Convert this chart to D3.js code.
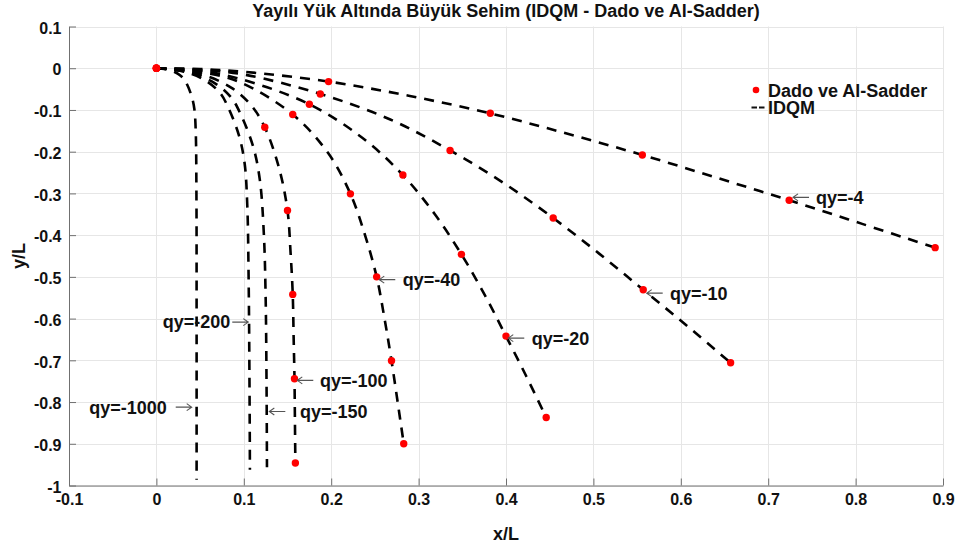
<!DOCTYPE html>
<html>
<head>
<meta charset="utf-8">
<script src="https://cdn.jsdelivr.net/npm/d3@7"></script>
<style>
  html, body { margin: 0; padding: 0; background: #fff; }
  svg { display: block; font-family: "Liberation Sans", Arial, sans-serif; }
</style>
</head>
<body>
<svg id="chart" width="959" height="547"></svg>
<script>
// ---- data: beam deflection shapes (x/L, y/L) for each distributed load qy ----
const loads = [-4, -10, -20, -40, -100, -150, -200, -1000];

// IDQM solution curves
const idqm_q4 = [[0,0],[0.05,-0.002],[0.1,-0.0085],[0.197,-0.032],[0.29,-0.0665],[0.382,-0.1083],[0.4695,-0.1565],[0.556,-0.2079],[0.6405,-0.262],[0.724,-0.3165],[0.8075,-0.373],[0.891,-0.430]];
const idqm_q10 = [[0,0],[0.0498,-0.0038],[0.0995,-0.0148],[0.1875,-0.0616],[0.2676,-0.1229],[0.336,-0.197],[0.398,-0.276],[0.454,-0.359],[0.5066,-0.4443],[0.557,-0.531],[0.6075,-0.618],[0.657,-0.706]];
const idqm_q20 = [[0,0],[0.0496,-0.006],[0.0966,-0.026],[0.175,-0.0863],[0.2355,-0.1666],[0.282,-0.256],[0.3186,-0.350],[0.349,-0.446],[0.3758,-0.5437],[0.400,-0.642],[0.4235,-0.7394],[0.446,-0.837]];
const idqm_q40 = [[0,0],[0.0492,-0.0087],[0.0945,-0.0326],[0.156,-0.111],[0.1965,-0.2034],[0.222,-0.301],[0.2387,-0.400],[0.252,-0.500],[0.261,-0.600],[0.269,-0.701],[0.276,-0.7995],[0.283,-0.900]];
const idqm_q100 = [[0,0],[0.0483,-0.0129],[0.0855,-0.0464],[0.109,-0.0905],[0.124,-0.1415],[0.1405,-0.2405],[0.150,-0.341],[0.1535,-0.4415],[0.156,-0.542],[0.157,-0.643],[0.158,-0.744],[0.1585,-0.845],[0.159,-0.946]];
const idqm_q150 = [[0,0],[0.038,-0.010],[0.0675,-0.0367],[0.086,-0.0715],[0.0963,-0.1097],[0.111,-0.19],[0.1185,-0.27],[0.123,-0.40],[0.125,-0.55],[0.126,-0.75],[0.1265,-0.956]];
const idqm_q200 = [[0,0],[0.0325,-0.0087],[0.0575,-0.0312],[0.0734,-0.0609],[0.082,-0.0934],[0.0946,-0.162],[0.101,-0.229],[0.104,-0.33],[0.1055,-0.5],[0.1065,-0.75],[0.107,-0.962]];
const idqm_q1000 = [[0,0],[0.014,-0.0037],[0.0248,-0.0135],[0.0316,-0.0262],[0.0354,-0.0403],[0.0407,-0.0697],[0.0435,-0.099],[0.045,-0.15],[0.0458,-0.3],[0.046,-0.6],[0.046,-0.986]];

// Dado ve Al-Sadder reference points
const dado_q4 = [[0,0],[0.197,-0.032],[0.382,-0.108],[0.556,-0.208],[0.724,-0.3165],[0.891,-0.430]];
const dado_q10 = [[0,0],[0.1875,-0.0616],[0.336,-0.197],[0.454,-0.359],[0.557,-0.531],[0.657,-0.706]];
const dado_q20 = [[0,0],[0.175,-0.0863],[0.282,-0.256],[0.349,-0.446],[0.400,-0.642],[0.446,-0.837]];
const dado_q40 = [[0,0],[0.156,-0.111],[0.222,-0.301],[0.252,-0.500],[0.269,-0.701],[0.283,-0.900]];
const dado_q100 = [[0,0],[0.124,-0.1415],[0.150,-0.341],[0.156,-0.542],[0.158,-0.744],[0.159,-0.946]];

// annotation anchors (arrow tip, data units) and arrow direction
const labelText = ["qy=-4", "qy=-10", "qy=-20", "qy=-40", "qy=-100", "qy=-150", "qy=-200", "qy=-1000"];
const labelX = [0.7284, 0.561, 0.4026, 0.255, 0.1612, 0.1292, 0.1051, 0.0404];
const labelY = [-0.3094, -0.539, -0.6468, -0.5067, -0.748, -0.8225, -0.6084, -0.8122];
const labelDir = ["left", "left", "left", "left", "left", "left", "right", "right"];

// axis ticks
const xTicks = [-0.1, 0, 0.1, 0.2, 0.3, 0.4, 0.5, 0.6, 0.7, 0.8, 0.9];
const xTickLabels = ["-0.1", "0", "0.1", "0.2", "0.3", "0.4", "0.5", "0.6", "0.7", "0.8", "0.9"];
const yTicks = [0.1, 0, -0.1, -0.2, -0.3, -0.4, -0.5, -0.6, -0.7, -0.8, -0.9, -1];
const yTickLabels = ["0.1", "0", "-0.1", "-0.2", "-0.3", "-0.4", "-0.5", "-0.6", "-0.7", "-0.8", "-0.9", "-1"];

const titleText = "Yayılı Yük Altında Büyük Sehim (IDQM - Dado ve Al-Sadder)";
const legendText = ["Dado ve Al-Sadder", "IDQM"];

// ---- layout ----
const plot = { left: 69, right: 943, top: 26.5, bottom: 485.5 };
const textGap = [23, 23.3, 23.4, 23.4, 22.7, 30.7, 18, 25];
const arrowLen = 16;

const svg = d3.select("#chart");
const x = d3.scaleLinear().domain([-0.1, 0.9]).range([plot.left, plot.right]);
const y = d3.scaleLinear().domain([-1, 0.1]).range([plot.bottom, plot.top]);

// grid
const grid = svg.append("g").attr("stroke", "#e6e6e6").attr("stroke-width", 1);
grid.selectAll("line.gx").data(xTicks).join("line")
  .attr("x1", d => Math.round(x(d)) + 0.5).attr("x2", d => Math.round(x(d)) + 0.5)
  .attr("y1", plot.top).attr("y2", plot.bottom);
grid.selectAll("line.gy").data(yTicks).join("line")
  .attr("y1", d => Math.round(y(d)) + 0.5).attr("y2", d => Math.round(y(d)) + 0.5)
  .attr("x1", plot.left).attr("x2", plot.right);

// axes
const xAxis = d3.axisBottom(x).tickValues(xTicks)
  .tickFormat((d, i) => xTickLabels[i]).tickSizeInner(-7).tickSizeOuter(0).tickPadding(8.5);
const yAxis = d3.axisLeft(y).tickValues(yTicks)
  .tickFormat((d, i) => yTickLabels[i]).tickSizeInner(-7).tickSizeOuter(0).tickPadding(7.5);

const gx = svg.append("g").attr("transform", `translate(0,${plot.bottom})`).call(xAxis);
const gy = svg.append("g").attr("transform", `translate(${plot.left},0)`).call(yAxis);
[gx, gy].forEach(g => {
  g.select(".domain").attr("stroke", "#707070");
  g.selectAll(".tick line").attr("stroke", "#707070");
  g.selectAll(".tick text").attr("fill", "#111").attr("font-size", 16)
    .attr("font-weight", "bold").attr("font-family", "Liberation Sans, Arial, sans-serif");
});
gy.selectAll(".tick text").attr("dy", "0.42em");

// IDQM dashed curves
const line = d3.line().x(d => x(d[0])).y(d => y(d[1])).curve(d3.curveCatmullRom.alpha(0.5));
const idqmSeries = [idqm_q4, idqm_q10, idqm_q20, idqm_q40, idqm_q100, idqm_q150, idqm_q200, idqm_q1000];
svg.append("g").selectAll("path").data(idqmSeries).join("path")
  .attr("d", line)
  .attr("fill", "none").attr("stroke", "#000").attr("stroke-width", 2.6)
  .attr("stroke-dasharray", "10,8");

// reference points
const dadoSeries = [dado_q4, dado_q10, dado_q20, dado_q40, dado_q100];
svg.append("g").selectAll("g").data(dadoSeries).join("g")
  .selectAll("circle").data(d => d).join("circle")
  .attr("cx", d => x(d[0])).attr("cy", d => y(d[1])).attr("r", 3.7)
  .attr("fill", "#ff0000");

// annotations
const ann = svg.append("g");
labelText.forEach((t, i) => {
  const tx = x(labelX[i]), ty = y(labelY[i]);
  const s = labelDir[i] === "left" ? 1 : -1;   // +1: arrow points left, tail to the right
  const g = ann.append("g");
  g.append("path")
    .attr("d", `M${tx + s * arrowLen},${ty}H${tx}M${tx + s * 5},${ty - 3.5}L${tx},${ty}L${tx + s * 5},${ty + 3.5}`)
    .attr("fill", "none").attr("stroke", "#555").attr("stroke-width", 1.1);
  g.append("text")
    .attr("x", tx + s * textGap[i]).attr("y", ty + 6.4)
    .attr("text-anchor", s > 0 ? "start" : "end")
    .attr("font-size", 18).attr("font-weight", "bold").attr("fill", "#111")
    .text(t);
});

// legend
const lg = svg.append("g");
lg.append("circle").attr("cx", 756).attr("cy", 90).attr("r", 3.3).attr("fill", "#ff0000");
lg.append("text").attr("x", 768).attr("y", 96.5).attr("font-size", 18).attr("font-weight", "bold")
  .attr("fill", "#111").text(legendText[0]);
lg.append("line").attr("x1", 751.5).attr("x2", 765).attr("y1", 107.5).attr("y2", 107.5)
  .attr("stroke", "#111").attr("stroke-width", 2).attr("stroke-dasharray", "5.5,2");
lg.append("text").attr("x", 768).attr("y", 114).attr("font-size", 18).attr("font-weight", "bold")
  .attr("fill", "#111").text(legendText[1]);

// title and axis labels
svg.append("text").attr("x", (plot.left + plot.right) / 2).attr("y", 17)
  .attr("text-anchor", "middle").attr("font-size", 18).attr("font-weight", "bold")
  .attr("fill", "#111").text(titleText);
svg.append("text").attr("x", (plot.left + plot.right) / 2).attr("y", 540)
  .attr("text-anchor", "middle").attr("font-size", 18).attr("font-weight", "bold")
  .attr("fill", "#111").text("x/L");
svg.append("text").attr("transform", `translate(25,${(plot.top + plot.bottom) / 2}) rotate(-90)`)
  .attr("text-anchor", "middle").attr("font-size", 18).attr("font-weight", "bold")
  .attr("fill", "#111").text("y/L");
</script>
</body>
</html>
